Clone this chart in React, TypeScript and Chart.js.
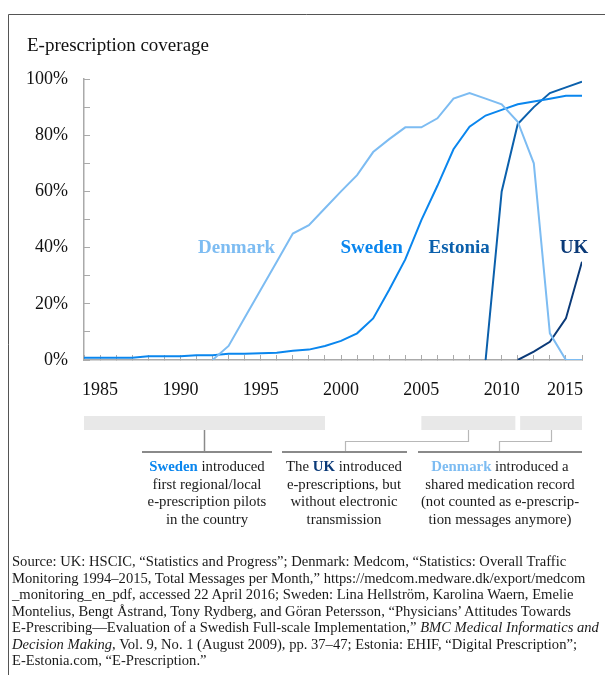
import React, { useEffect, useRef } from 'react';
import { Chart, registerables } from 'chart.js';

Chart.register(...registerables);

const years = [
  1984, 1985, 1986, 1987, 1988, 1989, 1990, 1991, 1992, 1993, 1994, 1995, 1996, 1997, 1998, 1999,
  2000, 2001, 2002, 2003, 2004, 2005, 2006, 2007, 2008, 2009, 2010, 2011, 2012, 2013, 2014, 2015,
];

const denmark = [
  null, null, null, null, null, null, null, null, 0, 5, 15, 25, 35, 45, 48, 54,
  60, 65.8, 74, 78.6, 82.8, 82.8, 86, 93, 95, 93, 91, 84.8, 70, 9.5, 0, 0,
];
const sweden = [
  0.8, 0.8, 0.8, 0.8, 1.3, 1.3, 1.3, 1.7, 1.7, 2.2, 2.2, 2.4, 2.6, 3.3, 3.7, 5,
  6.8, 9.5, 14.8, 25, 35.8, 49.8, 62, 75, 83, 87, 89, 91, 92, 93, 94, 94,
];
const estonia = [
  null, null, null, null, null, null, null, null, null, null, null, null, null, null, null, null,
  null, null, null, null, null, null, null, null, null, 0, 60, 84, 90, 95, 97, 99,
];
const uk = [
  null, null, null, null, null, null, null, null, null, null, null, null, null, null, null, null,
  null, null, null, null, null, null, null, null, null, null, null, 0, 3, 6.5, 14.8, 35,
];

const seriesNames = ['Denmark', 'Sweden', 'Estonia', 'UK'];
const seriesColors = ['#7dbcf2', '#0a86ee', '#0b60ac', '#0b3a78'];
const seriesValues = [denmark, sweden, estonia, uk];
const seriesLabelAt = [
  [1993.5, 40],
  [2001.9, 40],
  [2007.35, 40],
  [2014.5, 40],
];

const periods = [
  [1984, 1999],
  [2005, 2010.85],
  [2011.15, 2015],
];

const lastYearLabel = 2015;
const titleText = 'E-prescription coverage';
const SERIF = '"Liberation Serif", "Times New Roman", serif';

const decorPlugin = {
  id: 'decor',
  afterDraw(chart: any) {
    const { ctx } = chart;
    const xs = chart.scales.x;
    const ys = chart.scales.y;
    ctx.save();
    // frame
    ctx.strokeStyle = '#555';
    ctx.lineWidth = 1;
    ctx.beginPath();
    ctx.moveTo(8.5, 675);
    ctx.lineTo(8.5, 14.5);
    ctx.lineTo(605, 14.5);
    ctx.stroke();
    // title
    ctx.fillStyle = '#111';
    ctx.font = `19px ${SERIF}`;
    ctx.textAlign = 'left';
    ctx.textBaseline = 'alphabetic';
    ctx.fillText(titleText, 27, 51);
    // last x tick label, right-aligned to the axis end
    ctx.font = `18px ${SERIF}`;
    ctx.textAlign = 'right';
    ctx.textBaseline = 'middle';
    ctx.fillText(String(lastYearLabel), xs.getPixelForValue(lastYearLabel) + 1, xs.top + 30);
    // series labels
    ctx.font = `bold 19px ${SERIF}`;
    ctx.textAlign = 'center';
    ctx.textBaseline = 'middle';
    seriesNames.forEach((n, i) => {
      ctx.fillStyle = seriesColors[i];
      ctx.fillText(n, xs.getPixelForValue(seriesLabelAt[i][0]), ys.getPixelForValue(seriesLabelAt[i][1]));
    });
    // period bars
    ctx.fillStyle = '#e8e8e8';
    const centers: number[] = [];
    periods.forEach(([a, b]) => {
      const x1 = xs.getPixelForValue(a);
      const x2 = xs.getPixelForValue(b);
      ctx.fillRect(x1, 416, x2 - x1, 14);
      centers.push((x1 + x2) / 2);
    });
    // brackets
    ctx.strokeStyle = '#8a8a8a';
    ctx.lineWidth = 2;
    [[142, 272], [282, 407], [418, 582]].forEach(([a, b]) => {
      ctx.beginPath();
      ctx.moveTo(a, 452);
      ctx.lineTo(b, 452);
      ctx.stroke();
    });
    // connectors
    ctx.strokeStyle = '#8a8a8a';
    ctx.lineWidth = 1.5;
    ctx.beginPath();
    ctx.moveTo(Math.round(centers[0]) + 0.5, 430);
    ctx.lineTo(Math.round(centers[0]) + 0.5, 451);
    ctx.stroke();
    ctx.strokeStyle = '#b8b8b8';
    ctx.lineWidth = 1.2;
    ctx.beginPath();
    ctx.moveTo(Math.round(centers[1]) + 0.5, 430);
    ctx.lineTo(Math.round(centers[1]) + 0.5, 441.5);
    ctx.lineTo(345.5, 441.5);
    ctx.lineTo(345.5, 451);
    ctx.stroke();
    ctx.beginPath();
    ctx.moveTo(Math.round(centers[2]) + 0.5, 430);
    ctx.lineTo(Math.round(centers[2]) + 0.5, 441.5);
    ctx.lineTo(499.5, 441.5);
    ctx.lineTo(499.5, 451);
    ctx.stroke();
    ctx.restore();
  },
};

const blockStyle: React.CSSProperties = {
  position: 'absolute',
  top: 458,
  textAlign: 'center',
  fontFamily: SERIF,
  fontSize: 14.8,
  lineHeight: '17.5px',
  color: '#1a1a1a',
  whiteSpace: 'nowrap',
};

export default function App() {
  const ref = useRef<HTMLCanvasElement | null>(null);
  useEffect(() => {
    if (!ref.current) return;
    const chart = new Chart(ref.current, {
      type: 'line',
      data: {
        datasets: seriesValues.map((vals, i) => ({
          label: seriesNames[i],
          data: years.map((yr, j) => ({ x: yr, y: vals[j] })),
          borderColor: seriesColors[i],
          backgroundColor: seriesColors[i],
          borderWidth: 2,
          pointRadius: 0,
          tension: 0,
          fill: false,
        })),
      },
      options: {
        animation: false,
        responsive: false,
        layout: { padding: { left: 0, top: 79, right: 23, bottom: 275 } },
        plugins: { legend: { display: false }, tooltip: { enabled: false } },
        scales: {
          x: {
            type: 'linear',
            min: 1984,
            max: 2015,
            afterFit: (s: any) => {
              s.height = 40;
              s.paddingLeft = 0;
              s.paddingRight = 0;
            },
            border: { color: '#aaa', width: 1.5 },
            grid: { drawOnChartArea: false, drawTicks: true, tickLength: -5, color: '#aaa', lineWidth: 1 },
            ticks: {
              stepSize: 1,
              autoSkip: false,
              maxRotation: 0,
              padding: 24,
              color: '#111',
              font: { family: SERIF, size: 18 },
              callback: (v: any) => (v % 5 === 0 && v !== lastYearLabel ? String(v) : ''),
            },
          },
          y: {
            min: 0,
            max: 100,
            afterFit: (s: any) => {
              s.width = 84;
              s.paddingTop = 0;
              s.paddingBottom = 0;
            },
            border: { color: '#aaa', width: 1.5 },
            grid: { drawOnChartArea: false, drawTicks: true, tickLength: -6, color: '#aaa', lineWidth: 1 },
            ticks: {
              stepSize: 10,
              padding: 22,
              color: '#111',
              font: { family: SERIF, size: 18 },
              callback: (v: any) => (v % 20 === 0 ? v + '%' : ''),
            },
          },
        },
      },
      plugins: [decorPlugin],
    });
    return () => chart.destroy();
  }, []);

  return (
    <div style={{ position: 'absolute', left: 0, top: 0, width: 605, height: 675, background: '#fff', overflow: 'hidden' }}>
      <canvas ref={ref} width={605} height={675} style={{ position: 'absolute', left: 0, top: 0, display: 'block' }} />
      <div style={{ ...blockStyle, left: 127, width: 160 }}>
        <b style={{ color: seriesColors[1] }}>Sweden</b> introduced
        <br />first regional/local
        <br />e-prescription pilots
        <br />in the country
      </div>
      <div style={{ ...blockStyle, left: 264, width: 160 }}>
        The <b style={{ color: seriesColors[3] }}>UK</b> introduced
        <br />e-prescriptions, but
        <br />without electronic
        <br />transmission
      </div>
      <div style={{ ...blockStyle, left: 410, width: 180 }}>
        <b style={{ color: seriesColors[0] }}>Denmark</b> introduced a
        <br />shared medication record
        <br />(not counted as e-prescrip-
        <br />tion messages anymore)
      </div>
      <div
        style={{
          position: 'absolute',
          left: 12,
          top: 553.2,
          fontFamily: SERIF,
          fontSize: 14.6,
          lineHeight: '16.55px',
          color: '#1a1a1a',
          whiteSpace: 'nowrap',
        }}
      >
        Source: UK: HSCIC, “Statistics and Progress”; Denmark: Medcom, “Statistics: Overall Traffic
        <br />Monitoring 1994–2015, Total Messages per Month,” https://medcom.medware.dk/export/medcom
        <br />_monitoring_en_pdf, accessed 22 April 2016; Sweden: Lina Hellström, Karolina Waern, Emelie
        <br />Montelius, Bengt Åstrand, Tony Rydberg, and Göran Petersson, “Physicians’ Attitudes Towards
        <br />E-Prescribing—Evaluation of a Swedish Full-scale Implementation,” <i>BMC Medical Informatics and</i>
        <br /><i>Decision Making</i>, Vol. 9, No. 1 (August 2009), pp. 37–47; Estonia: EHIF, “Digital Prescription”;
        <br />E-Estonia.com, “E-Prescription.”
      </div>
    </div>
  );
}
